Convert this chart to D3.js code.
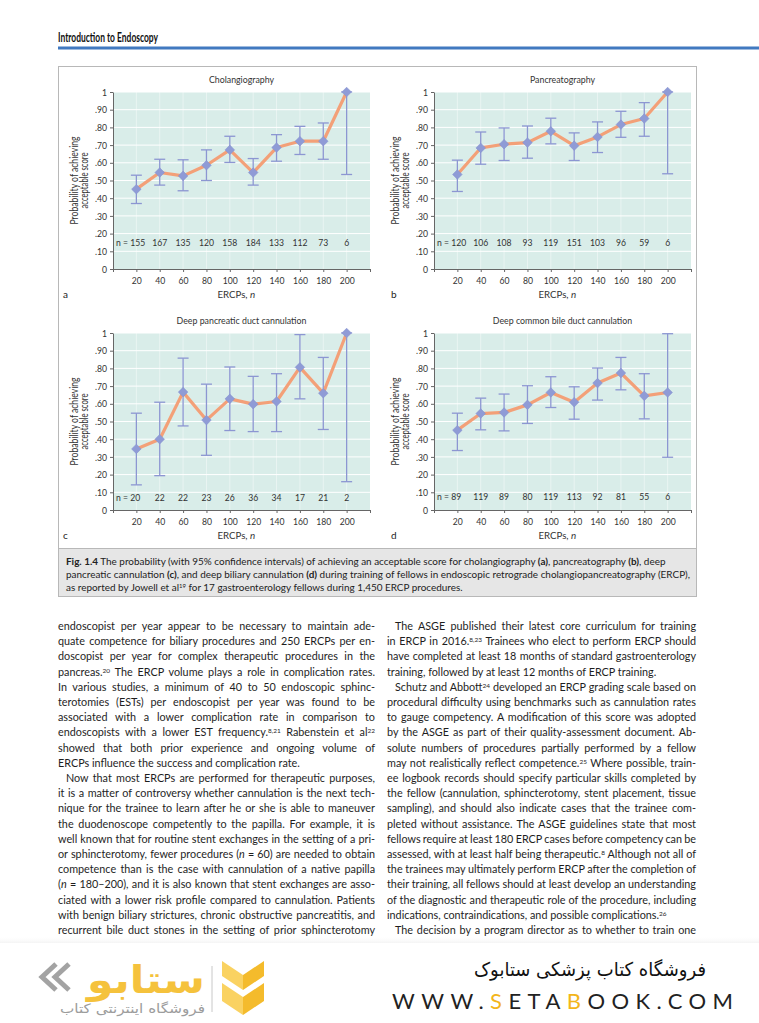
<!DOCTYPE html>
<html>
<head>
<meta charset="utf-8">
<script src="https://cdn.jsdelivr.net/npm/d3@7"></script>
<style>
  body { margin: 0; background: #fff; }
  svg { display: block; }
</style>
</head>
<body>
<div id="content"></div>
<script>
// ---- data ----
var ercps = [20, 40, 60, 80, 100, 120, 140, 160, 180, 200];
var xAxisTicks = [0, 20, 40, 60, 80, 100, 120, 140, 160, 180, 200, 220];
var yTickVals = [0, .1, .2, .3, .4, .5, .6, .7, .8, .9, 1];
var yTickText = ["0", ".10", ".20", ".30", ".40", ".50", ".60", ".70", ".80", ".90", "1"];

var cholProb = [.451, .545, .526, .586, .673, .545, .686, .722, .722, 1];
var cholLow  = [.370, .474, .442, .500, .602, .474, .609, .647, .620, .534];
var cholHigh = [.530, .620, .617, .673, .750, .624, .759, .806, .825, 1];
var cholN    = [155, 167, 135, 120, 158, 184, 133, 112, 73, 6];

var pancProb = [.534, .684, .705, .714, .778, .697, .746, .816, .850, 1];
var pancLow  = [.438, .592, .613, .626, .707, .613, .658, .744, .750, .538];
var pancHigh = [.615, .774, .797, .808, .852, .769, .831, .891, .940, 1];
var pancN    = [120, 106, 108, 93, 119, 151, 103, 96, 59, 6];

var pdProb = [.345, .400, .666, .508, .628, .598, .613, .806, .660, 1];
var pdLow  = [.142, .194, .475, .309, .449, .443, .443, .628, .455, .160];
var pdHigh = [.547, .609, .858, .711, .808, .755, .770, .991, .862, 1];
var pdN    = [20, 22, 22, 23, 26, 36, 34, 17, 21, 2];

var cbdProb = [.451, .545, .551, .594, .664, .609, .717, .774, .645, .664];
var cbdLow  = [.336, .453, .447, .489, .579, .513, .621, .679, .515, .298];
var cbdHigh = [.547, .632, .655, .702, .753, .696, .802, .862, .770, .996];
var cbdN    = [89, 119, 89, 80, 119, 113, 92, 81, 55, 6];

var titles  = ["Cholangiography", "Pancreatography", "Deep pancreatic duct cannulation", "Deep common bile duct cannulation"];
var letters = ["a", "b", "c", "d"];

var captionLines = [
  "*Fig. 1.4* The probability (with 95% confidence intervals) of achieving an acceptable score for cholangiography *(a)*, pancreatography *(b)*, deep",
  "pancreatic cannulation *(c)*, and deep biliary cannulation *(d)* during training of fellows in endoscopic retrograde cholangiopancreatography (ERCP),",
  "as reported by Jowell et al^19^ for 17 gastroenterology fellows during 1,450 ERCP procedures."
];

var leftLines = [
  "endoscopist per year appear to be necessary to maintain ade-",
  "quate competence for biliary procedures and 250 ERCPs per en-",
  "doscopist per year for complex therapeutic procedures in the",
  "pancreas.^20^ The ERCP volume plays a role in complication rates.",
  "In various studies, a minimum of 40 to 50 endoscopic sphinc-",
  "terotomies (ESTs) per endoscopist per year was found to be",
  "associated with a lower complication rate in comparison to",
  "endoscopists with a lower EST frequency.^8,21^ Rabenstein et al^22^",
  "showed that both prior experience and ongoing volume of",
  "ERCPs influence the success and complication rate.|",
  ">Now that most ERCPs are performed for therapeutic purposes,",
  "it is a matter of controversy whether cannulation is the next tech-",
  "nique for the trainee to learn after he or she is able to maneuver",
  "the duodenoscope competently to the papilla. For example, it is",
  "well known that for routine stent exchanges in the setting of a pri-",
  "or sphincterotomy, fewer procedures (_n_ = 60) are needed to obtain",
  "competence than is the case with cannulation of a native papilla",
  "(_n_ = 180–200), and it is also known that stent exchanges are asso-",
  "ciated with a lower risk profile compared to cannulation. Patients",
  "with benign biliary strictures, chronic obstructive pancreatitis, and",
  "recurrent bile duct stones in the setting of prior sphincterotomy"
];

var rightLines = [
  ">The ASGE published their latest core curriculum for training",
  "in ERCP in 2016.^8,23^ Trainees who elect to perform ERCP should",
  "have completed at least 18 months of standard gastroenterology",
  "training, followed by at least 12 months of ERCP training.|",
  ">Schutz and Abbott^24^ developed an ERCP grading scale based on",
  "procedural difficulty using benchmarks such as cannulation rates",
  "to gauge competency. A modification of this score was adopted",
  "by the ASGE as part of their quality-assessment document. Ab-",
  "solute numbers of procedures partially performed by a fellow",
  "may not realistically reflect competence.^25^ Where possible, train-",
  "ee logbook records should specify particular skills completed by",
  "the fellow (cannulation, sphincterotomy, stent placement, tissue",
  "sampling), and should also indicate cases that the trainee com-",
  "pleted without assistance. The ASGE guidelines state that most",
  "fellows require at least 180 ERCP cases before competency can be",
  "assessed, with at least half being therapeutic.^8^ Although not all of",
  "the trainees may ultimately perform ERCP after the completion of",
  "their training, all fellows should at least develop an understanding",
  "of the diagnostic and therapeutic role of the procedure, including",
  "indications, contraindications, and possible complications.^26^|",
  ">The decision by a program director as to whether to train one"
];

// ---- styles ----
var FONT = "Lato, 'Open Sans', sans-serif";
var mint = "#d9ede9", lineOrange = "#f3a078", diamondBlue = "#8f9bd6", barBlue = "#8c96d2";
var axisGrey = "#666", textDark = "#333";

var svg = d3.select("#content").append("svg")
    .attr("width", 759)
    .attr("height", 1023)
    .style("font-family", FONT);

// squeeze text to a narrower width (the book uses a condensed face)
function condense(sel, k) {
  sel.each(function() {
    var w = this.getComputedTextLength();
    d3.select(this).attr("textLength", w * k).attr("lengthAdjust", "spacingAndGlyphs");
  });
}

// rich text: *bold*, _italic_, ^superscript^
function addRich(textSel, str, size) {
  var parts = str.split(/(\*[^*]+\*|_[^_]+_|\^[^^]+\^)/).filter(function(s) { return s.length; });
  parts.forEach(function(s) {
    var t = textSel.append("tspan");
    if (s[0] == "*") { t.text(s.slice(1, -1)).attr("font-weight", 700); }
    else if (s[0] == "_") { t.text(s.slice(1, -1)).attr("font-style", "italic"); }
    else if (s[0] == "^") {
      t.text(s.slice(1, -1)).attr("font-size", size * 0.6).attr("baseline-shift", "super");
    }
    else t.text(s);
  });
}

//Header
svg.append("text")
    .attr("x", 58).attr("y", 42)
    .attr("font-size", 12.5).attr("font-weight", 700).attr("fill", "#111")
    .attr("textLength", 100).attr("lengthAdjust", "spacingAndGlyphs")
    .text("Introduction to Endoscopy");
svg.append("rect")
    .attr("x", 58).attr("y", 46.5)
    .attr("width", 701).attr("height", 3)
    .attr("fill", "#4179c0");

//Figure box + caption
svg.append("rect")
    .attr("x", 58.5).attr("y", 66.5)
    .attr("width", 638).attr("height", 548 - 66)
    .attr("fill", "#fff").attr("stroke", "#b8b8b8");
svg.append("rect")
    .attr("x", 58.5).attr("y", 548.5)
    .attr("width", 638).attr("height", 48)
    .attr("fill", "#e6e6e6").attr("stroke", "#b8b8b8");

var capTexts = [];
captionLines.forEach(function(line, i) {
  var t = svg.append("text")
      .attr("x", 66).attr("y", 565 + i * 13)
      .attr("font-size", 9.8).attr("fill", "#222");
  addRich(t, line, 9.8);
  capTexts.push(t);
});
var capK = 624 / capTexts[1].node().getComputedTextLength();
capTexts.forEach(function(t) { condense(t, capK); });

//Panels
var plotW = 257, plotH = 177;
var panels = [
  { title: titles[0], letter: letters[0], left: 113, top: 92,  letterX: 63,  prob: cholProb, low: cholLow, high: cholHigh, n: cholN, nAt: .13 },
  { title: titles[1], letter: letters[1], left: 434, top: 92,  letterX: 391, prob: pancProb, low: pancLow, high: pancHigh, n: pancN, nAt: .13 },
  { title: titles[2], letter: letters[2], left: 113, top: 333, letterX: 63,  prob: pdProb,   low: pdLow,   high: pdHigh,   n: pdN,   nAt: .05 },
  { title: titles[3], letter: letters[3], left: 434, top: 333, letterX: 391, prob: cbdProb,  low: cbdLow,  high: cbdHigh,  n: cbdN,  nAt: .055 }
];

panels.forEach(drawPanel);

function drawPanel(p) {
  var x = d3.scaleLinear().domain([0, 220]).range([0, plotW]);
  var y = d3.scaleLinear().domain([0, 1]).range([plotH, 0]);
  var g = svg.append("g").attr("transform", "translate(" + p.left + "," + p.top + ")");

  g.append("rect").attr("width", plotW).attr("height", plotH).attr("fill", mint);

  g.selectAll("line.hgrid").data(yTickVals.slice(1)).enter().append("line")
      .attr("class", "hgrid")
      .attr("x1", 0).attr("x2", plotW)
      .attr("y1", function(d) { return y(d); }).attr("y2", function(d) { return y(d); })
      .attr("stroke", "#fff").attr("stroke-width", 1);
  g.selectAll("line.vgrid").data(ercps).enter().append("line")
      .attr("class", "vgrid")
      .attr("x1", function(d) { return x(d); }).attr("x2", function(d) { return x(d); })
      .attr("y1", 0).attr("y2", plotH)
      .attr("stroke", "#fff").attr("stroke-opacity", 0.55).attr("stroke-width", 0.8);

  var ya = g.append("g")
      .call(d3.axisLeft(y).tickValues(yTickVals)
        .tickFormat(function(d, i) { return yTickText[i]; })
        .tickSize(3).tickSizeOuter(0));
  var xa = g.append("g")
      .attr("transform", "translate(0," + plotH + ")")
      .call(d3.axisBottom(x).tickValues(xAxisTicks)
        .tickFormat(function(d) { return ercps.indexOf(d) >= 0 ? d : ""; })
        .tickSize(3).tickSizeOuter(0));
  [ya, xa].forEach(function(a) {
    a.select(".domain").attr("stroke", axisGrey);
    a.selectAll(".tick line").attr("stroke", axisGrey);
    a.selectAll(".tick text").attr("fill", textDark).attr("font-size", 9.8).attr("font-family", FONT);
  });
  xa.selectAll(".tick text").attr("dy", "0.9em");

  var rows = ercps.map(function(e, i) {
    return { e: e, p: p.prob[i], lo: p.low[i], hi: p.high[i], n: p.n[i] };
  });

  //Error bars
  var eb = g.append("g").attr("stroke", barBlue).attr("stroke-width", 1.3);
  eb.selectAll("line.bar").data(rows).enter().append("line")
      .attr("x1", function(d) { return x(d.e); }).attr("x2", function(d) { return x(d.e); })
      .attr("y1", function(d) { return y(d.lo); }).attr("y2", function(d) { return y(d.hi); });
  ["lo", "hi"].forEach(function(k) {
    eb.selectAll("line.cap" + k).data(rows).enter().append("line")
        .attr("x1", function(d) { return x(d.e) - 5.5; }).attr("x2", function(d) { return x(d.e) + 5.5; })
        .attr("y1", function(d) { return y(d[k]); }).attr("y2", function(d) { return y(d[k]); });
  });

  //Orange line
  g.append("path")
      .datum(rows)
      .attr("d", d3.line().x(function(d) { return x(d.e); }).y(function(d) { return y(d.p); }))
      .attr("fill", "none").attr("stroke", lineOrange)
      .attr("stroke-width", 3.2).attr("stroke-linejoin", "round");

  //Diamonds
  g.selectAll("path.pt").data(rows).enter().append("path")
      .attr("d", d3.symbol(d3.symbolSquare, 46)())
      .attr("transform", function(d) { return "translate(" + x(d.e) + "," + y(d.p) + ") rotate(45)"; })
      .attr("fill", diamondBlue).attr("stroke", "#8390cf").attr("stroke-width", 0.5);

  //n labels
  var nl = g.append("g").attr("font-size", 9.8).attr("fill", textDark);
  nl.selectAll("text").data(rows).enter().append("text")
      .attr("x", function(d, i) { return i == 0 ? 3 : x(d.e); })
      .attr("y", y(p.nAt))
      .attr("text-anchor", function(d, i) { return i == 0 ? "start" : "middle"; })
      .text(function(d, i) { return i == 0 ? "n = " + d.n : d.n; });

  //Title
  g.append("text")
      .attr("x", plotW / 2).attr("y", -9)
      .attr("text-anchor", "middle").attr("font-size", 10).attr("fill", textDark)
      .text(p.title);

  condense(g.selectAll("text"), 0.88);

  //X axis title
  g.append("text")
      .attr("x", plotW / 2 + 6).attr("y", plotH + 29)
      .attr("text-anchor", "end").attr("font-size", 9.8).attr("fill", textDark)
      .attr("textLength", 30).attr("lengthAdjust", "spacingAndGlyphs")
      .text("ERCPs,");
  g.append("text")
      .attr("x", plotW / 2 + 8.5).attr("y", plotH + 29)
      .attr("font-size", 9.8).attr("font-style", "italic").attr("fill", textDark)
      .text("n");

  //Y axis title (two lines)
  var yl = g.append("g").attr("transform", "translate(-35," + (plotH / 2) + ") rotate(-90)")
      .attr("font-size", 10.6).attr("fill", textDark).attr("text-anchor", "middle");
  yl.append("text").attr("y", 0)
      .attr("textLength", 88).attr("lengthAdjust", "spacingAndGlyphs")
      .text("Probability of achieving");
  yl.append("text").attr("y", 9.5)
      .attr("textLength", 56).attr("lengthAdjust", "spacingAndGlyphs")
      .text("acceptable score");

  svg.append("text")
      .attr("x", p.letterX).attr("y", p.top + plotH + 29)
      .attr("font-size", 10).attr("fill", "#222")
      .text(p.letter);
}

//Body text, two justified columns
function drawColumn(lines, x0, width, y0) {
  lines.forEach(function(raw, i) {
    var indent = raw[0] == ">";
    var last = raw[raw.length - 1] == "|";
    var s = raw.replace(/^>/, "").replace(/\|$/, "");
    var xs = x0 + (indent ? 8 : 0);
    var w = width - (indent ? 8 : 0);
    var t = svg.append("text")
        .attr("x", xs).attr("y", y0 + i * 15.2)
        .attr("font-size", 10.8).attr("fill", "#1e1e1e");
    addRich(t, s, 10.8);
    var nat = t.node().getComputedTextLength();
    if (!last) {
      var spaces = (s.match(/ /g) || []).length;
      var ws = (w - nat) / spaces;
      if (ws >= -0.6) t.attr("word-spacing", ws);
      else t.attr("textLength", w).attr("lengthAdjust", "spacingAndGlyphs");
    } else if (nat > w) {
      t.attr("textLength", w).attr("lengthAdjust", "spacingAndGlyphs");
    }
  });
}
drawColumn(leftLines, 58, 317, 630);
drawColumn(rightLines, 387, 309, 630);

//Footer: soft grey shade under the last lines, then white
var defs = svg.append("defs");
var grad = defs.append("linearGradient").attr("id", "fade").attr("x1", 0).attr("x2", 0).attr("y1", 0).attr("y2", 1);
grad.append("stop").attr("offset", "0%").attr("stop-color", "#fff").attr("stop-opacity", 0);
grad.append("stop").attr("offset", "100%").attr("stop-color", "#efefef").attr("stop-opacity", 0.7);
svg.append("rect").attr("x", 0).attr("y", 936).attr("width", 759).attr("height", 7).attr("fill", "url(#fade)");
svg.append("rect").attr("x", 0).attr("y", 943).attr("width", 759).attr("height", 80).attr("fill", "#fff");

var logo = svg.append("g");
// grey double chevron
logo.append("path")
    .attr("d", "M56,964 L42,977 L56,990 M69,964 L55,977 L69,990")
    .attr("fill", "none").attr("stroke", "#a3a3a3").attr("stroke-width", 5);
logo.append("text")
    .attr("x", 205).attr("y", 993)
    .attr("text-anchor", "end").attr("font-size", 38).attr("font-weight", 700)
    .attr("fill", "#f5c23c").attr("font-family", "'DejaVu Sans', sans-serif")
    .attr("textLength", 118).attr("lengthAdjust", "spacingAndGlyphs")
    .text("ستابو");
logo.append("text")
    .attr("x", 205).attr("y", 1013)
    .attr("text-anchor", "end").attr("font-size", 13)
    .attr("fill", "#9c9c9c").attr("font-family", "'DejaVu Sans', sans-serif")
    .attr("textLength", 145).attr("lengthAdjust", "spacingAndGlyphs")
    .text("فروشگاه اینترنتی کتاب");
logo.append("line")
    .attr("x1", 212).attr("x2", 212).attr("y1", 966).attr("y2", 1012)
    .attr("stroke", "#c8c8c8").attr("stroke-width", 1);
// yellow mark
logo.append("path").attr("d", "M222,961 L243,975 L243,990 L222,976 Z").attr("fill", "#fad261");
logo.append("path").attr("d", "M264,961 L243,975 L243,990 L264,976 Z").attr("fill", "#f4bb2c");
logo.append("path").attr("d", "M222,983 L243,997 L243,1015 L222,1001 Z").attr("fill", "#fad261");
logo.append("path").attr("d", "M264,983 L243,997 L243,1015 L264,1001 Z").attr("fill", "#f4bb2c");

svg.append("text")
    .attr("x", 706).attr("y", 976)
    .attr("text-anchor", "end").attr("font-size", 19)
    .attr("fill", "#111").attr("font-family", "'DejaVu Sans', sans-serif")
    .attr("textLength", 232).attr("lengthAdjust", "spacingAndGlyphs")
    .text("فروشگاه کتاب پزشکی ستابوک");

var www = svg.append("text")
    .attr("x", 392).attr("y", 1009)
    .attr("font-size", 22).attr("fill", "#222").attr("font-family", FONT);
[["WWW.", "#222"], ["S", "#f3b51a"], ["ETA", "#222"], ["B", "#f3b51a"], ["OOK.COM", "#222"]].forEach(function(s) {
  www.append("tspan").attr("fill", s[1]).text(s[0]);
});
www.attr("textLength", 341).attr("lengthAdjust", "spacing");
</script>
</body>
</html>
